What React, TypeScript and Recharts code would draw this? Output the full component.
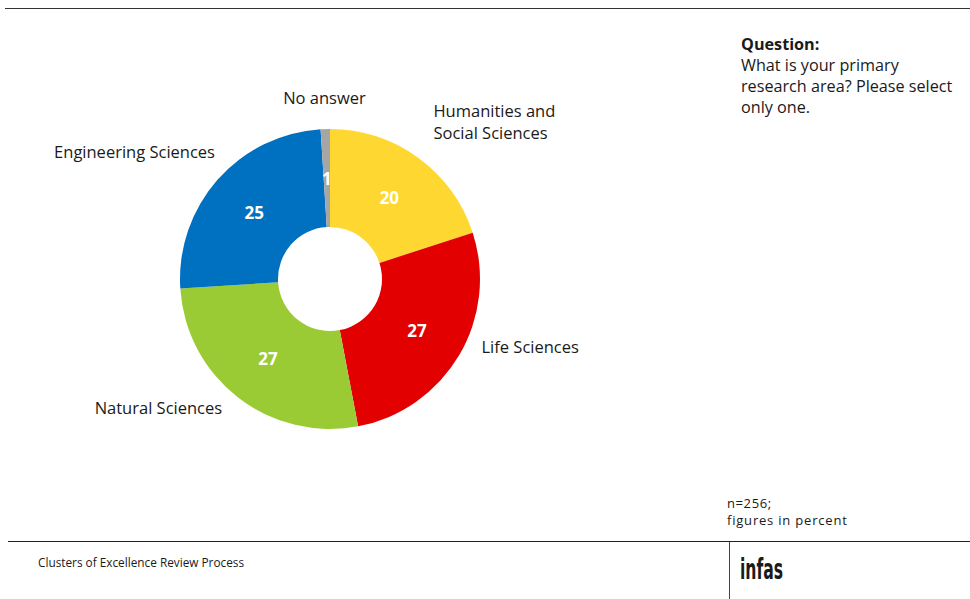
import { PieChart, Pie, Cell } from 'recharts';

const areas = ['Humanities and Social Sciences', 'Life Sciences', 'Natural Sciences', 'Engineering Sciences', 'No answer'];
const shares = [20, 27, 27, 25, 1];
const colors = ['#FED831', '#E20000', '#9ACB34', '#0070C0', '#A6A6A6'];
const labelLines = [['Humanities and', 'Social Sciences'], ['Life Sciences'], ['Natural Sciences'], ['Engineering Sciences'], ['No answer']];
// small hand nudges for the outside labels (px), same order as areas
const nudgeX = [0, 0, 0, 17, 0];
const nudgeY = [-2, -9, 3, 2, 8];

const data = areas.map((name, i) => ({ name, value: shares[i], idx: i }));

const FONT = '"Open Sans", "Noto Sans", sans-serif';
const RAD = Math.PI / 180;

const renderLabel = (props: any) => {
  const { cx, cy, midAngle, innerRadius, outerRadius, value, payload } = props;
  const i = payload.idx;
  const cos = Math.cos(-midAngle * RAD);
  const sin = Math.sin(-midAngle * RAD);
  // number inside the ring
  const rIn = (innerRadius + outerRadius) / 2;
  const vx = cx + rIn * cos;
  const vy = cy + rIn * sin;
  // category name outside
  const rOut = outerRadius + 26;
  const ox = cx + rOut * cos + nudgeX[i];
  let oy = cy + rOut * sin - 14 + nudgeY[i];
  const lines: string[] = labelLines[i];
  const anchor = cos > 0.15 ? 'start' : cos < -0.15 ? 'end' : 'middle';
  if (lines.length > 1) oy -= 11;
  return (
    <g>
      <text x={vx} y={vy} fill="#fff" fontSize={17} fontWeight={700} fontFamily={FONT} textAnchor="middle" dominantBaseline="central">
        {value}
      </text>
      <text x={ox} y={oy} fill="#1a1a1a" fontSize={16.5} fontFamily={FONT} textAnchor={anchor} dominantBaseline="central">
        {lines.map((l, k) => (
          <tspan key={k} x={ox} dy={k === 0 ? 0 : 22}>{l}</tspan>
        ))}
      </text>
    </g>
  );
};

export default function App() {
  return (
    <div style={{ position: 'absolute', left: 0, top: 0, width: 970, height: 599, background: '#fff', fontFamily: FONT, color: '#1a1a1a', overflow: 'hidden' }}>
      <div style={{ position: 'absolute', left: 5, top: 8, width: 965, height: 0, borderTop: '1.5px solid #333' }} />
      <div style={{ position: 'absolute', left: 0, top: 0 }}>
        <PieChart width={700} height={530} margin={{ top: 0, right: 0, bottom: 0, left: 0 }}>
          <Pie
            data={data}
            dataKey="value"
            cx={330}
            cy={279}
            innerRadius={52}
            outerRadius={150}
            startAngle={90}
            endAngle={-270}
            stroke="none"
            label={renderLabel}
            labelLine={false}
            isAnimationActive={false}
          >
            {data.map((d, i) => (
              <Cell key={d.name} fill={colors[i]} />
            ))}
          </Pie>
        </PieChart>
      </div>
      <div style={{ position: 'absolute', left: 741, top: 34, fontSize: 16.2, lineHeight: '21px' }}>
        <div style={{ fontWeight: 700 }}>Question:</div>
        <div>What is your primary<br />research area? Please select<br />only one.</div>
      </div>
      <div style={{ position: 'absolute', left: 727, top: 495, fontSize: 13, lineHeight: '16px', letterSpacing: 0.6 }}>n=256;</div>
      <div style={{ position: 'absolute', left: 727, top: 512, fontSize: 13, lineHeight: '16px', letterSpacing: 0.8 }}>figures in percent</div>
      <div style={{ position: 'absolute', left: 8, top: 541, width: 962, height: 0, borderTop: '1.5px solid #222' }} />
      <div style={{ position: 'absolute', left: 729, top: 542, width: 0, height: 57, borderLeft: '1.5px solid #444' }} />
      <div style={{ position: 'absolute', left: 38, top: 554, fontSize: 11.8 }}>Clusters of Excellence Review Process</div>
      <div style={{ position: 'absolute', left: 740, top: 555, fontSize: 28, fontWeight: 700, fontFamily: '"Liberation Sans Narrow", "DejaVu Sans Condensed", sans-serif', lineHeight: '30px', transform: 'scaleX(0.62)', transformOrigin: 'left' }}>infas</div>
    </div>
  );
}
